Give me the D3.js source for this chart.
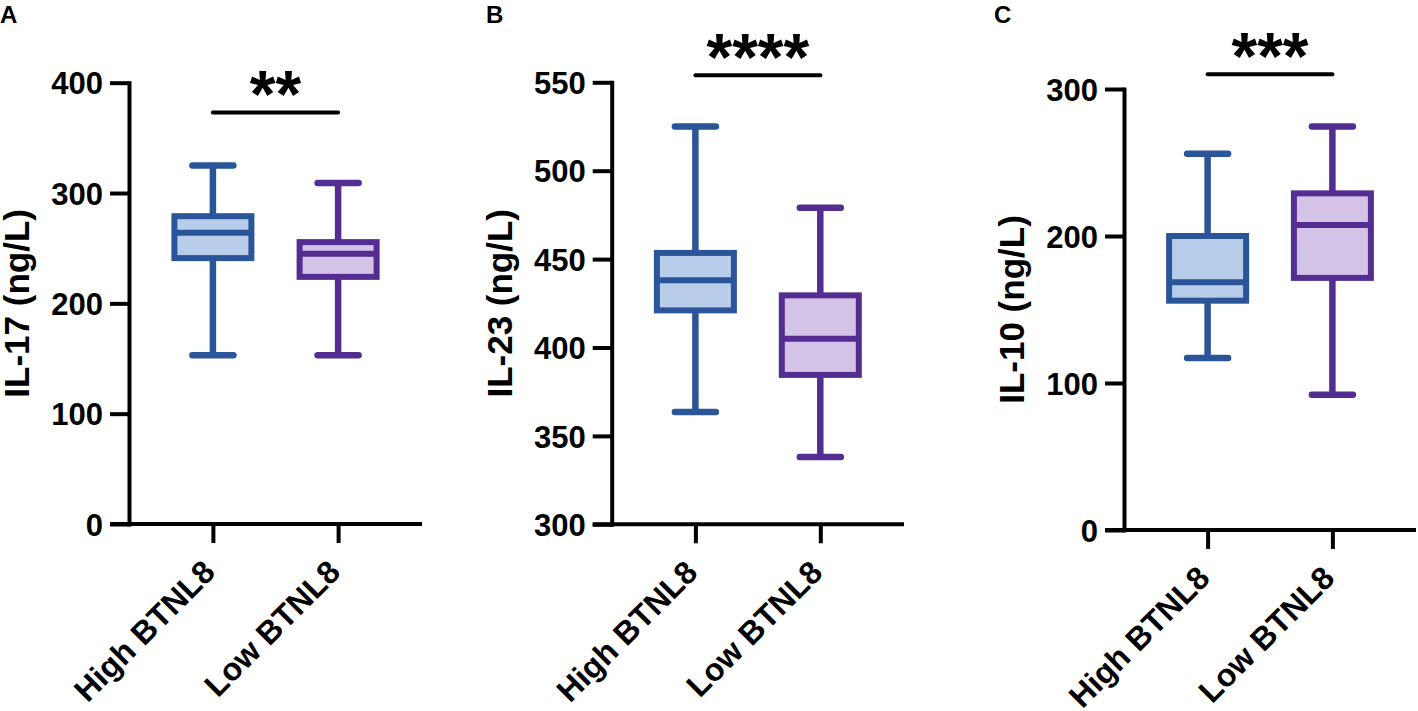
<!DOCTYPE html>
<html>
<head>
<meta charset="utf-8">
<script src="https://cdn.jsdelivr.net/npm/d3@7"></script>
<style>
  body { margin: 0; background: #fff; }
  svg text { font-family: "Liberation Sans", Arial, Helvetica, sans-serif; font-weight: bold; fill: #000; }
</style>
</head>
<body>
<div id="chart"></div>
<script>
const width = 1418, height = 711;

// data
const groups = ["High BTNL8", "Low BTNL8"];
const panelLetters = ["A", "B", "C"];
const yTitles = ["IL-17 (ng/L)", "IL-23 (ng/L)", "IL-10 (ng/L)"];
const yDomains = [[0, 400], [300, 550], [0, 300]];
const yTickValues = [
  [0, 100, 200, 300, 400],
  [300, 350, 400, 450, 500, 550],
  [0, 100, 200, 300]
];
// [min, q1, median, q3, max]
const il17High = [153, 241, 264, 279, 325];
const il17Low = [153, 224, 245, 255.5, 309];
const il23High = [363.5, 421, 438, 453.5, 525];
const il23Low = [338, 384.5, 405, 429.5, 479];
const il10High = [117, 156, 168.5, 200, 256];
const il10Low = [92, 171.5, 207.5, 229, 274.5];
const sigStars = ["**", "****", "***"];
const sigLevels = [373, 554, 310];

const series = [[il17High, il17Low], [il23High, il23Low], [il10High, il10Low]];
const strokeColors = ["#2a5598", "#532d91"];
const fillColors = ["#b8cdea", "#d2c3e7"];

// panel frames (layout)
const frames = [
  { left: 129, right: 422, top: 82.7, bottom: 524 },
  { left: 611.7, right: 904, top: 82.3, bottom: 524.3 },
  { left: 1124, right: 1416, top: 89, bottom: 530 }
];
const letterX = [0, 486, 994];

const svg = d3.select("#chart").append("svg")
  .attr("width", width)
  .attr("height", height);

frames.forEach((f, p) => {
  const g = svg.append("g");
  const x = d3.scalePoint().domain(groups).range([f.left, f.right]).padding(0.67);
  const y = d3.scaleLinear().domain(yDomains[p]).range([f.bottom, f.top]);
  const boxW = 77, capW = 41;

  // panel letter
  svg.append("text")
    .attr("x", letterX[p]).attr("y", 23)
    .style("font-size", "24px")
    .text(panelLetters[p]);

  // y axis
  const yAxis = g.append("g")
    .attr("transform", `translate(${f.left},0)`)
    .call(d3.axisLeft(y).tickValues(yTickValues[p]).tickSize(19).tickSizeOuter(0).tickPadding(7));
  yAxis.selectAll("path, line").attr("stroke", "#000").attr("stroke-width", 4);
  yAxis.select("path").attr("stroke-linecap", "square");
  yAxis.selectAll("text")
    .style("font-size", "31px")
    .attr("dy", "0.36em");

  // x axis
  const xAxis = g.append("g")
    .attr("transform", `translate(0,${f.bottom})`)
    .call(d3.axisBottom(x).tickSize(19).tickSizeOuter(0).tickFormat(""));
  xAxis.selectAll("path, line").attr("stroke", "#000").attr("stroke-width", 4);
  xAxis.select("path").attr("d", `M${f.left - 19},0H${f.right}`);

  g.selectAll("text.cat")
    .data(groups)
    .join("text")
    .attr("class", "cat")
    .attr("text-anchor", "end")
    .attr("transform", d => `translate(${x(d) + 4},${f.bottom + 50}) rotate(-45)`)
    .style("font-size", "32px")
    .text(d => d);

  // y title
  g.append("text")
    .attr("transform", `translate(${f.left - 100},${(f.top + f.bottom) / 2}) rotate(-90)`)
    .attr("text-anchor", "middle")
    .style("font-size", "35px")
    .text(yTitles[p]);

  // boxes
  groups.forEach((grp, i) => {
    const s = series[p][i];
    const cx = x(grp);
    const sc = strokeColors[i];
    const bg = g.append("g");
    bg.append("line")
      .attr("x1", cx).attr("x2", cx)
      .attr("y1", y(s[0])).attr("y2", y(s[4]))
      .attr("stroke", sc).attr("stroke-width", 6.5);
    [s[0], s[4]].forEach(v => {
      bg.append("line")
        .attr("x1", cx - capW / 2).attr("x2", cx + capW / 2)
        .attr("y1", y(v)).attr("y2", y(v))
        .attr("stroke", sc).attr("stroke-width", 6.5)
        .attr("stroke-linecap", "round");
    });
    bg.append("rect")
      .attr("x", cx - boxW / 2).attr("width", boxW)
      .attr("y", y(s[3])).attr("height", y(s[1]) - y(s[3]))
      .attr("fill", fillColors[i])
      .attr("stroke", sc).attr("stroke-width", 6);
    bg.append("line")
      .attr("x1", cx - boxW / 2).attr("x2", cx + boxW / 2)
      .attr("y1", y(s[2])).attr("y2", y(s[2]))
      .attr("stroke", sc).attr("stroke-width", 6);
  });

  // significance bar
  const sy = y(sigLevels[p]);
  g.append("line")
    .attr("x1", x(groups[0])).attr("x2", x(groups[1]))
    .attr("y1", sy).attr("y2", sy)
    .attr("stroke", "#000").attr("stroke-width", 4)
    .attr("stroke-linecap", "round");
  g.append("text")
    .attr("x", (x(groups[0]) + x(groups[1])) / 2)
    .attr("y", sy + 5)
    .attr("text-anchor", "middle")
    .style("font-size", "66px")
    .text(sigStars[p]);
});
</script>
</body>
</html>
